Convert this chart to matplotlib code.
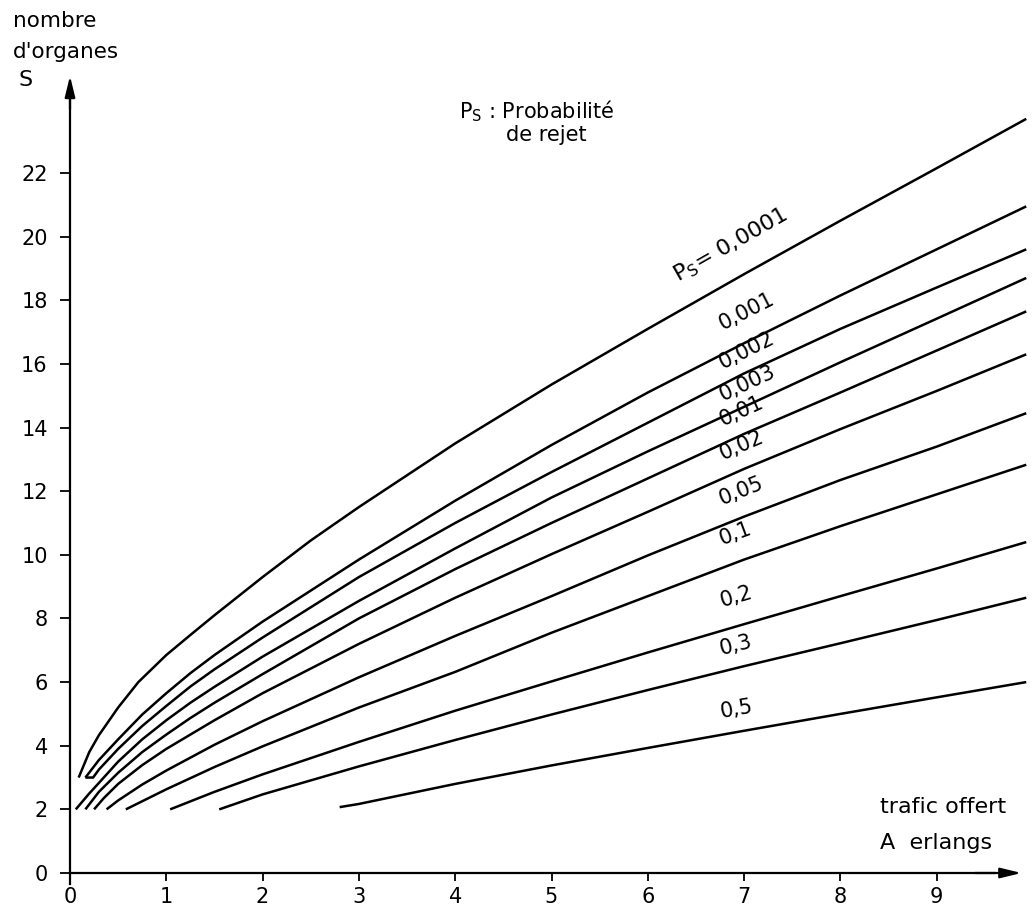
import numpy as np
import matplotlib
matplotlib.use("Agg")
import matplotlib.pyplot as plt

plt.rcParams['font.family'] = ['DejaVu Sans']

# trafic offert A (erlangs) et nombre d'organes S, lus sur chaque courbe
a_00001 = [0.09, 0.2, 0.3, 0.5, 0.71, 1, 1.25, 1.5, 2, 2.5, 3, 4, 5, 6, 7, 8, 9, 9.93]
s_00001 = [3.0, 3.8, 4.33, 5.2, 6.0, 6.85, 7.48, 8.1, 9.3, 10.45, 11.5, 13.5, 15.35, 17.1, 18.82, 20.5, 22.15, 23.7]

a_0001 = [0.16, 0.3, 0.5, 0.75, 1, 1.25, 1.5, 2, 3, 4, 5, 6, 7, 8, 9, 9.93]
s_0001 = [3.0, 3.55, 4.2, 4.98, 5.65, 6.28, 6.85, 7.9, 9.85, 11.7, 13.45, 15.1, 16.65, 18.15, 19.6, 20.95]

a_0002 = [0.16, 0.24, 0.3, 0.5, 0.75, 1, 1.25, 1.5, 2, 3, 4, 5, 6, 7, 8, 9, 9.93]
s_0002 = [3.0, 3.0, 3.25, 3.9, 4.62, 5.25, 5.86, 6.4, 7.4, 9.3, 11.0, 12.6, 14.15, 15.7, 17.1, 18.4, 19.6]

a_0003 = [0.06, 0.2, 0.3, 0.5, 0.75, 1, 1.25, 1.5, 2, 3, 4, 5, 6, 7, 8, 9, 9.93]
s_0003 = [2.0, 2.5, 2.83, 3.5, 4.2, 4.8, 5.35, 5.85, 6.8, 8.55, 10.2, 11.8, 13.25, 14.65, 16.05, 17.42, 18.7]

a_001 = [0.16, 0.3, 0.5, 0.75, 1, 1.25, 1.5, 2, 3, 4, 5, 6, 7, 8, 9, 9.93]
s_001 = [2.0, 2.55, 3.15, 3.8, 4.35, 4.87, 5.35, 6.25, 8.0, 9.55, 11.0, 12.4, 13.8, 15.1, 16.42, 17.65]

a_002 = [0.25, 0.35, 0.5, 0.75, 1, 1.5, 2, 3, 4, 5, 6, 7, 8, 9, 9.93]
s_002 = [2.0, 2.35, 2.8, 3.39, 3.9, 4.8, 5.65, 7.2, 8.65, 10.02, 11.35, 12.7, 13.95, 15.15, 16.3]

a_005 = [0.38, 0.5, 0.75, 1, 1.5, 2, 3, 4, 5, 6, 7, 8, 9, 9.93]
s_005 = [2.0, 2.28, 2.78, 3.22, 4.03, 4.77, 6.15, 7.45, 8.7, 9.98, 11.2, 12.35, 13.4, 14.45]

a_01 = [0.58, 1, 1.5, 2, 3, 4, 5, 6, 7, 8, 9, 9.93]
s_01 = [2.0, 2.63, 3.33, 3.98, 5.2, 6.32, 7.55, 8.7, 9.85, 10.9, 11.9, 12.83]

a_02 = [1.04, 1.5, 2, 3, 4, 5, 6, 7, 8, 9, 9.93]
s_02 = [2.0, 2.55, 3.1, 4.12, 5.1, 6.02, 6.93, 7.82, 8.7, 9.57, 10.4]

a_03 = [1.55, 2, 3, 4, 5, 6, 7, 8, 9, 9.93]
s_03 = [2.0, 2.47, 3.35, 4.18, 4.98, 5.75, 6.5, 7.22, 7.95, 8.65]

a_05 = [2.8, 3, 4, 5, 6, 7, 8, 9, 9.93]
s_05 = [2.07, 2.17, 2.8, 3.38, 3.93, 4.47, 5.0, 5.52, 6.0]

labels = [r"$\mathregular{P_S}$= 0,0001", "0,001", "0,002", "0,003", "0,01",
          "0,02", "0,05", "0,1", "0,2", "0,3", "0,5"]

x_ticks = list(range(0, 10))
y_ticks = list(range(0, 23, 2))

curves = [(a_00001, s_00001), (a_0001, s_0001), (a_0002, s_0002), (a_0003, s_0003),
          (a_001, s_001), (a_002, s_002), (a_005, s_005), (a_01, s_01),
          (a_02, s_02), (a_03, s_03), (a_05, s_05)]

# mise en page en pixels : origine et echelles de la figure d'origine
W, H = 1034, 911
ox, oy = 70, 873
ux, uy = 96.3, 31.82
xmin, xmax = -0.3, 10.0
ymin, ymax = -0.6, 25.5

fig = plt.figure(figsize=(W / 100, H / 100), dpi=100)
left = ox + xmin * ux
right = ox + xmax * ux
top = oy - ymax * uy
bottom = oy - ymin * uy
ax = fig.add_axes([left / W, 1 - bottom / H, (right - left) / W, (bottom - top) / H])
ax.set_xlim(xmin, xmax)
ax.set_ylim(ymin, ymax)
ax.patch.set_alpha(0)

for a, s in curves:
    ax.plot(a, s, color='black', lw=1.8, solid_capstyle='butt', solid_joinstyle='round')

# axes avec fleches
for side in ['top', 'right']:
    ax.spines[side].set_visible(False)
ax.spines['left'].set_position(('data', 0))
ax.spines['bottom'].set_position(('data', 0))
ax.spines['left'].set_bounds(-0.35, 24.6)
ax.spines['bottom'].set_bounds(0, 9.6)
ax.spines['left'].set_linewidth(1.6)
ax.spines['bottom'].set_linewidth(1.6)
arrow = dict(arrowstyle='-|>,head_length=0.9,head_width=0.22', color='black',
             lw=1.6, shrinkA=0, shrinkB=0, mutation_scale=14)
ax.annotate('', xy=(9.88, 0), xytext=(9.4, 0), arrowprops=arrow)
ax.annotate('', xy=(0, 25.05), xytext=(0, 24.0), arrowprops=arrow)

ax.set_xticks(x_ticks)
ax.set_yticks(y_ticks)
ax.tick_params(axis='x', direction='out', length=6, width=1.3, pad=4, labelsize=15)
ax.tick_params(axis='y', direction='out', length=7, width=1.3, pad=9, labelsize=15)

# etiquettes des courbes
label_x = [6.28, 6.75, 6.75, 6.75, 6.75, 6.75, 6.75, 6.75, 6.75, 6.75, 6.75]
label_dy = [37, 31, 22, 22, 24, 25, 27, 29, 30, 23, 23]
label_fs = [16, 15, 15, 15, 15, 15, 15, 15, 15, 15, 15]
fig.canvas.draw()
for (a, s), txt, lx, dy, fs in zip(curves, labels, label_x, label_dy, label_fs):
    y = np.interp(lx, a, s)
    p1 = ax.transData.transform((lx - 0.4, np.interp(lx - 0.4, a, s)))
    p2 = ax.transData.transform((lx + 0.4, np.interp(lx + 0.4, a, s)))
    ang = np.degrees(np.arctan2(p2[1] - p1[1], p2[0] - p1[0]))
    ax.annotate(txt, xy=(lx, y), xytext=(0, dy * 0.72), textcoords='offset points',
                rotation=ang, rotation_mode='anchor', ha='left', va='center',
                fontsize=fs)

ax.text(4.85, 23.95, r"$\mathregular{P_S}$ : Probabilité", fontsize=15, ha='center', va='center')
ax.text(4.95, 23.2, "de rejet", fontsize=15, ha='center', va='center')

ax.text(8.41, 2.07, "trafic offert", fontsize=16, va='center')
ax.text(8.41, 0.94, "A  erlangs", fontsize=16, va='center')

fig.text(13 / W, 1 - 21 / H, "nombre", fontsize=15.5, va='center')
fig.text(13 / W, 1 - 52 / H, "d'organes", fontsize=15.5, va='center')
fig.text(18 / W, 1 - 80 / H, "S", fontsize=16, va='center')

fig.savefig("out.png", dpi=100)
